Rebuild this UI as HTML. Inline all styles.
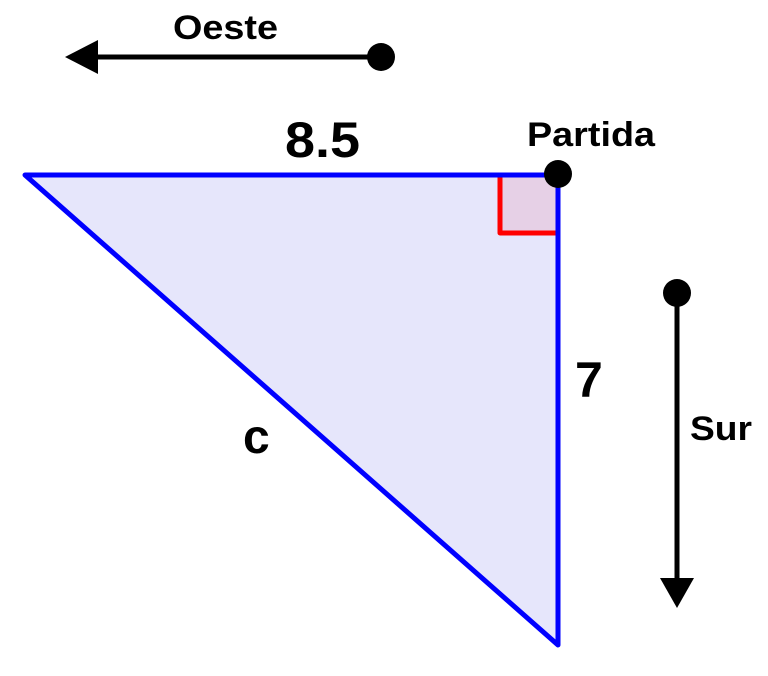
<!DOCTYPE html>
<html><head><meta charset="utf-8"><style>
html,body{margin:0;padding:0;background:#fff;}
svg{display:block;}
text{font-family:"Liberation Sans",Arial,sans-serif;font-weight:bold;fill:#000;}
</style></head><body>
<svg width="768" height="676" viewBox="0 0 768 676" xmlns="http://www.w3.org/2000/svg">
<polygon points="25,175 558,175 558,645" fill="#e6e6fb" stroke="none"/>
<polyline points="558,175 500,175 500,233 558,233" fill="#e6d0e6" stroke="#ff0000" stroke-width="5" stroke-linejoin="round"/>
<polygon points="25,175 558,175 558,645" fill="none" stroke="#0000ff" stroke-width="5" stroke-linejoin="round"/>
<circle cx="558" cy="174" r="14" fill="#000"/>
<line x1="380" y1="57" x2="95" y2="57" stroke="#000" stroke-width="5"/>
<polygon points="65,57 98,40 98,74" fill="#000"/>
<circle cx="381" cy="57" r="14" fill="#000"/>
<line x1="677" y1="293" x2="677" y2="582" stroke="#000" stroke-width="5"/>
<polygon points="677,608 660,578 694,578" fill="#000"/>
<circle cx="677" cy="293" r="14" fill="#000"/>
<text x="173" y="39" font-size="34" textLength="105" lengthAdjust="spacingAndGlyphs">Oeste</text>
<text x="285" y="157" font-size="50" textLength="75" lengthAdjust="spacingAndGlyphs">8.5</text>
<text x="527" y="146" font-size="34" textLength="128" lengthAdjust="spacingAndGlyphs">Partida</text>
<text x="575" y="397" font-size="50">7</text>
<text x="243" y="453" font-size="48">c</text>
<text x="690" y="440" font-size="34" textLength="62" lengthAdjust="spacingAndGlyphs">Sur</text>
</svg>
</body></html>
